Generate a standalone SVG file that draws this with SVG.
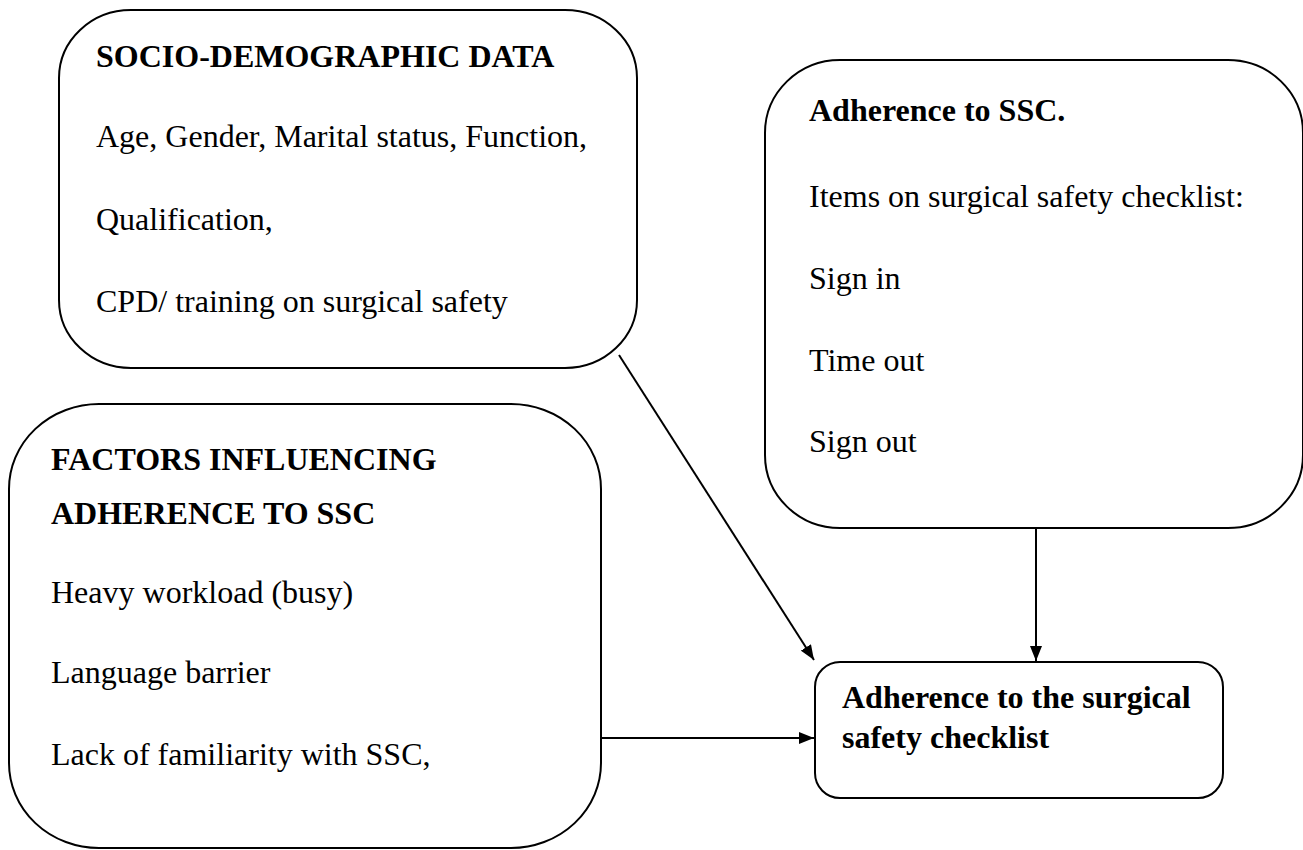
<svg xmlns="http://www.w3.org/2000/svg" width="1303" height="850" viewBox="0 0 1303 850">
<style>
.box{fill:#fff;stroke:#000;stroke-width:2}
text{font-family:'Liberation Serif','Times New Roman',serif;font-size:32px;fill:#000}
.b{font-weight:bold}
.c{stroke:#000;stroke-width:2;fill:none;marker-end:url(#ah)}
</style>
<defs>
<marker id="ah" viewBox="0 0 15 12" refX="15" refY="6" markerWidth="15" markerHeight="12" orient="auto" markerUnits="userSpaceOnUse">
<path d="M0,0 L15,6 L0,12 z" fill="#000"/>
</marker>
</defs>
<rect width="1303" height="850" fill="#fff"/>
<g id="socio">
<rect class="box" x="59" y="10" width="578" height="358" rx="72" ry="68"/>
<text class="b" x="96" y="67">SOCIO-DEMOGRAPHIC DATA</text>
<text x="96" y="147">Age, Gender, Marital status, Function,</text>
<text x="96" y="230">Qualification,</text>
<text x="96" y="312">CPD/ training on surgical safety</text>
</g>
<g id="factors">
<rect class="box" x="9" y="404" width="592" height="444" rx="90" ry="85"/>
<text class="b" x="51" y="470">FACTORS INFLUENCING</text>
<text class="b" x="51" y="524">ADHERENCE TO SSC</text>
<text x="51" y="603">Heavy workload (busy)</text>
<text x="51" y="683">Language barrier</text>
<text x="51" y="765">Lack of familiarity with SSC,</text>
</g>
<g id="adherence-ssc">
<rect class="box" x="765" y="60" width="538" height="468" rx="75" ry="73"/>
<text class="b" x="809" y="121">Adherence to SSC.</text>
<text x="809" y="207">Items on surgical safety checklist:</text>
<text x="809" y="289">Sign in</text>
<text x="809" y="371">Time out</text>
<text x="809" y="452">Sign out</text>
</g>
<g id="outcome">
<rect class="box" x="815" y="662" width="408" height="136" rx="25" ry="25"/>
<text class="b" x="842" y="708">Adherence to the surgical</text>
<text class="b" x="842" y="748">safety checklist</text>
</g>
<g id="connectors">
<line class="c" x1="619" y1="355" x2="814" y2="660"/>
<line class="c" x1="1036" y1="528" x2="1036" y2="661"/>
<line class="c" x1="601" y1="738" x2="814" y2="738"/>
</g>
</svg>
